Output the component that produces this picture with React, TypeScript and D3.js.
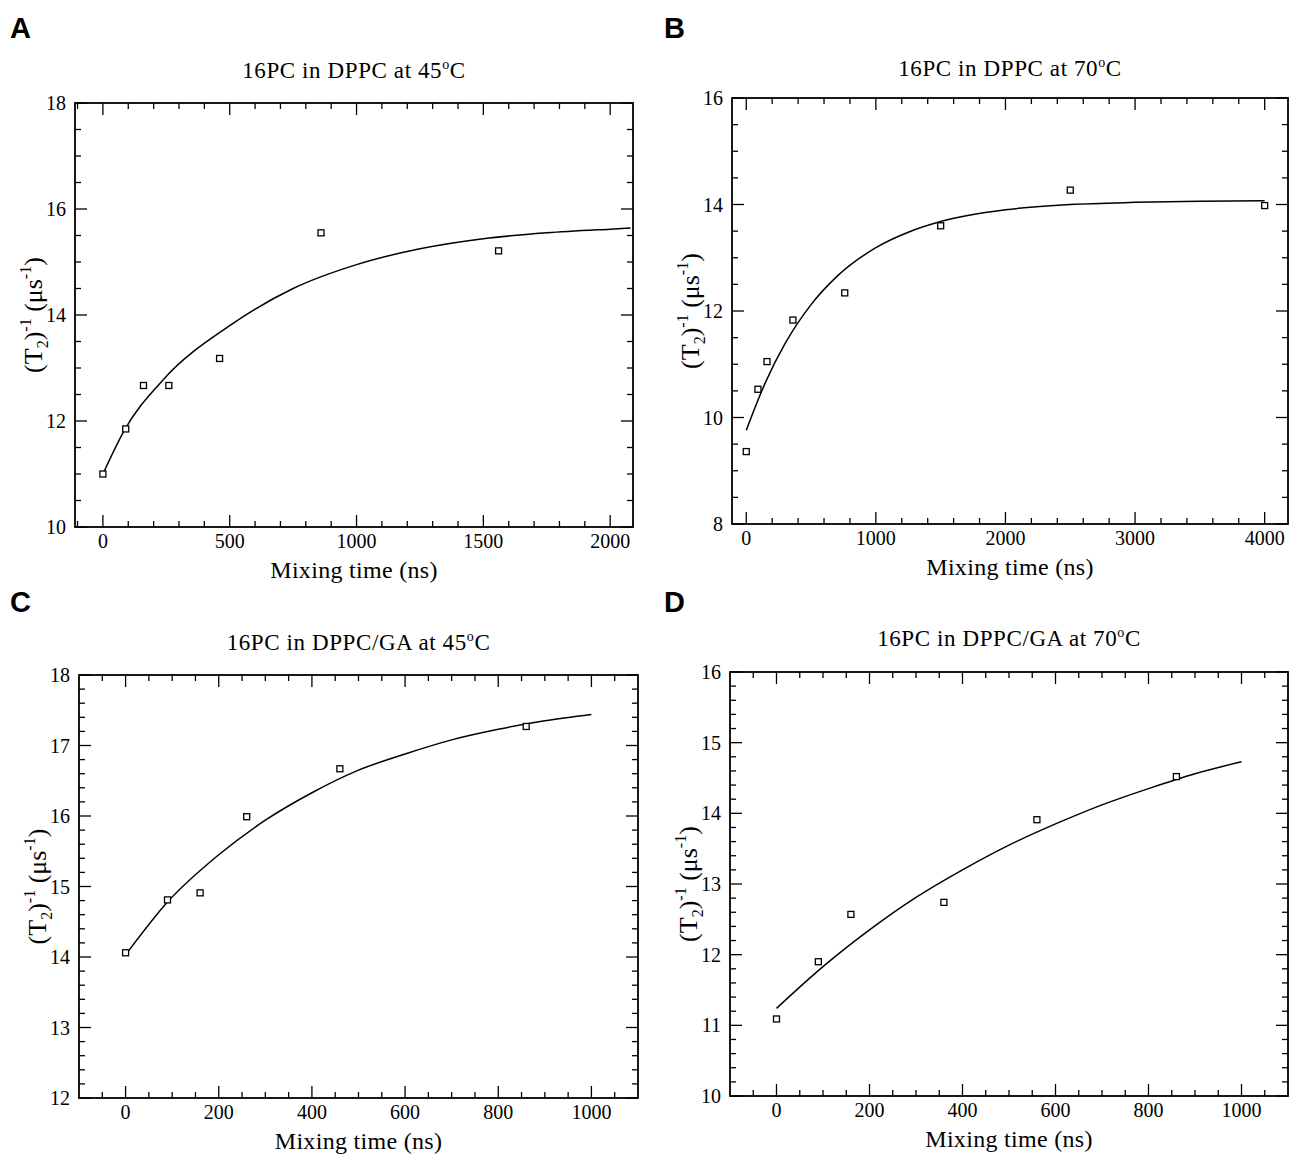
import React from 'react';
import * as d3 from 'd3';

// measured points (mixing time in ns, 1/T2 in µs^-1)
const aTime = [0, 90, 160, 260, 460, 860, 1560];
const aRate = [11.0, 11.85, 12.67, 12.67, 13.18, 15.55, 15.21];
const aFitTime = [0, 85, 236, 500, 750, 1000, 1250, 1500, 1750, 2000, 2080];
const aFitRate = [11.0, 11.83, 12.77, 13.8, 14.5, 14.95, 15.25, 15.44, 15.55, 15.62, 15.64];

const bTime = [0, 90, 160, 360, 760, 1500, 2500, 4000];
const bRate = [9.36, 10.53, 11.05, 11.83, 12.34, 13.6, 14.27, 13.98];
const bFitTime = [0, 150, 300, 500, 700, 1000, 1250, 1500, 2000, 2500, 3000, 3500, 4000];
const bFitRate = [9.76, 10.67, 11.39, 12.12, 12.65, 13.19, 13.48, 13.68, 13.9, 14.0, 14.04, 14.06, 14.07];

const cTime = [0, 90, 160, 260, 460, 860];
const cRate = [14.06, 14.81, 14.91, 15.99, 16.67, 17.27];
const cFitTime = [0, 90, 200, 300, 400, 500, 600, 700, 800, 900, 1000];
const cFitRate = [14.03, 14.78, 15.45, 15.94, 16.33, 16.65, 16.88, 17.08, 17.23, 17.35, 17.44];

const dTime = [0, 90, 160, 360, 560, 860];
const dRate = [11.09, 11.9, 12.57, 12.74, 13.91, 14.52];
const dFitTime = [0, 100, 200, 300, 400, 500, 600, 700, 800, 900, 1000];
const dFitRate = [11.24, 11.83, 12.35, 12.81, 13.2, 13.55, 13.85, 14.12, 14.35, 14.56, 14.73];

const serif = '"Liberation Serif", "Times New Roman", serif';
const sans = '"Liberation Sans", Arial, sans-serif';

const panels = [
  {
    letter: 'A', temp: '45', system: 'DPPC', lx: 10, ly: 38, titleY: 78,
    box: { l: 75, t: 103, r: 633, b: 527 },
    xDomain: [-110, 2090], yDomain: [10, 18],
    xMajor: 500, xMinor: 100, xMax: 2000, yMajor: 2, yMinor: 0.5,
    time: aTime, rate: aRate, fitTime: aFitTime, fitRate: aFitRate,
  },
  {
    letter: 'B', temp: '70', system: 'DPPC', lx: 664, ly: 38, titleY: 76,
    box: { l: 732, t: 98, r: 1288, b: 524 },
    xDomain: [-110, 4180], yDomain: [8, 16],
    xMajor: 1000, xMinor: 200, xMax: 4000, yMajor: 2, yMinor: 0.5,
    time: bTime, rate: bRate, fitTime: bFitTime, fitRate: bFitRate,
  },
  {
    letter: 'C', temp: '45', system: 'DPPC/GA', lx: 10, ly: 612, titleY: 650,
    box: { l: 79, t: 675, r: 638, b: 1098 },
    xDomain: [-100, 1100], yDomain: [12, 18],
    xMajor: 200, xMinor: 50, xMax: 1000, yMajor: 1, yMinor: 0.2,
    time: cTime, rate: cRate, fitTime: cFitTime, fitRate: cFitRate,
  },
  {
    letter: 'D', temp: '70', system: 'DPPC/GA', lx: 664, ly: 612, titleY: 646,
    box: { l: 730, t: 672, r: 1288, b: 1096 },
    xDomain: [-100, 1100], yDomain: [10, 16],
    xMajor: 200, xMinor: 50, xMax: 1000, yMajor: 1, yMinor: 0.2,
    time: dTime, rate: dRate, fitTime: dFitTime, fitRate: dFitRate,
  },
];

const MAJOR = 12;
const MINOR = 6;

function Panel({ p }) {
  const { box } = p;
  const x = d3.scaleLinear().domain(p.xDomain).range([box.l, box.r]);
  const y = d3.scaleLinear().domain(p.yDomain).range([box.b, box.t]);

  const eps = 1e-6;
  const xMajorTicks = d3.range(0, p.xMax + eps, p.xMajor);
  const xMinorTicks = d3
    .range(Math.ceil(p.xDomain[0] / p.xMinor) * p.xMinor, p.xDomain[1], p.xMinor)
    .filter((v) => Math.abs(v / p.xMajor - Math.round(v / p.xMajor)) > eps && x(v) > box.l + 2);
  const yMajorTicks = d3.range(p.yDomain[0], p.yDomain[1] + eps, p.yMajor);
  const yMinorTicks = d3
    .range(p.yDomain[0], p.yDomain[1] + eps, p.yMinor)
    .filter((v) => Math.abs((v - p.yDomain[0]) / p.yMajor - Math.round((v - p.yDomain[0]) / p.yMajor)) > 1e-4);

  const line = d3
    .line()
    .x((d) => x(d[0]))
    .y((d) => y(d[1]))
    .curve(d3.curveMonotoneX);
  const fit = p.fitTime.map((t, i) => [t, p.fitRate[i]]);

  const cx = (box.l + box.r) / 2;
  const cy = (box.t + box.b) / 2;
  const sq = 6;

  return (
    <g>
      <text x={p.lx} y={p.ly} fontFamily={sans} fontWeight="bold" fontSize={29}>
        {p.letter}
      </text>
      <text x={cx} y={p.titleY} textAnchor="middle" fontFamily={serif} fontSize={23} letterSpacing={0.6}>
        16PC in {p.system} at {p.temp}
        <tspan dy={-9} fontSize={14}>o</tspan>
        <tspan dy={9}>C</tspan>
      </text>

      {/* ticks, inward on all four sides */}
      <g stroke="#000" strokeWidth={1.3}>
        {xMajorTicks.map((v) => (
          <g key={'xM' + v}>
            <line x1={x(v)} x2={x(v)} y1={box.b} y2={box.b - MAJOR} />
            <line x1={x(v)} x2={x(v)} y1={box.t} y2={box.t + MAJOR} />
          </g>
        ))}
        {xMinorTicks.map((v) => (
          <g key={'xm' + v}>
            <line x1={x(v)} x2={x(v)} y1={box.b} y2={box.b - MINOR} />
            <line x1={x(v)} x2={x(v)} y1={box.t} y2={box.t + MINOR} />
          </g>
        ))}
        {yMajorTicks.map((v) => (
          <g key={'yM' + v}>
            <line x1={box.l} x2={box.l + MAJOR} y1={y(v)} y2={y(v)} />
            <line x1={box.r} x2={box.r - MAJOR} y1={y(v)} y2={y(v)} />
          </g>
        ))}
        {yMinorTicks.map((v) => (
          <g key={'ym' + v}>
            <line x1={box.l} x2={box.l + MINOR} y1={y(v)} y2={y(v)} />
            <line x1={box.r} x2={box.r - MINOR} y1={y(v)} y2={y(v)} />
          </g>
        ))}
      </g>
      <rect
        x={box.l}
        y={box.t}
        width={box.r - box.l}
        height={box.b - box.t}
        fill="none"
        stroke="#000"
        strokeWidth={1.8}
      />

      {xMajorTicks.map((v) => (
        <text key={'xl' + v} x={x(v)} y={box.b + 21} textAnchor="middle" fontFamily={serif} fontSize={20}>
          {v}
        </text>
      ))}
      {yMajorTicks.map((v) => (
        <text key={'yl' + v} x={box.l - 9} y={y(v)} dy="0.35em" textAnchor="end" fontFamily={serif} fontSize={20}>
          {Math.round(v)}
        </text>
      ))}

      <text x={cx} y={box.b + 51} textAnchor="middle" fontFamily={serif} fontSize={24} letterSpacing={0.3}>
        Mixing time (ns)
      </text>
      <text
        transform={`translate(${box.l - 33},${cy}) rotate(-90)`}
        textAnchor="middle"
        fontFamily={serif}
        fontSize={26}
      >
        (T<tspan dy={6} fontSize={16}>2</tspan>
        <tspan dy={-6}>)</tspan>
        <tspan dy={-11} fontSize={16}>-1</tspan>
        <tspan dy={11}> (μs</tspan>
        <tspan dy={-11} fontSize={16}>-1</tspan>
        <tspan dy={11}>)</tspan>
      </text>

      <path d={line(fit)} fill="none" stroke="#000" strokeWidth={1.5} />
      {p.time.map((t, i) => (
        <rect
          key={'pt' + i}
          x={x(t) - sq / 2}
          y={y(p.rate[i]) - sq / 2}
          width={sq}
          height={sq}
          fill="#fff"
          stroke="#000"
          strokeWidth={1.3}
        />
      ))}
    </g>
  );
}

export default function App() {
  return (
    <svg
      width={1290}
      height={1154}
      viewBox="0 0 1290 1154"
      style={{ position: 'absolute', left: 0, top: 0, background: '#fff' }}
    >
      <rect width={1290} height={1154} fill="#fff" />
      {panels.map((p) => (
        <Panel key={p.letter} p={p} />
      ))}
    </svg>
  );
}
